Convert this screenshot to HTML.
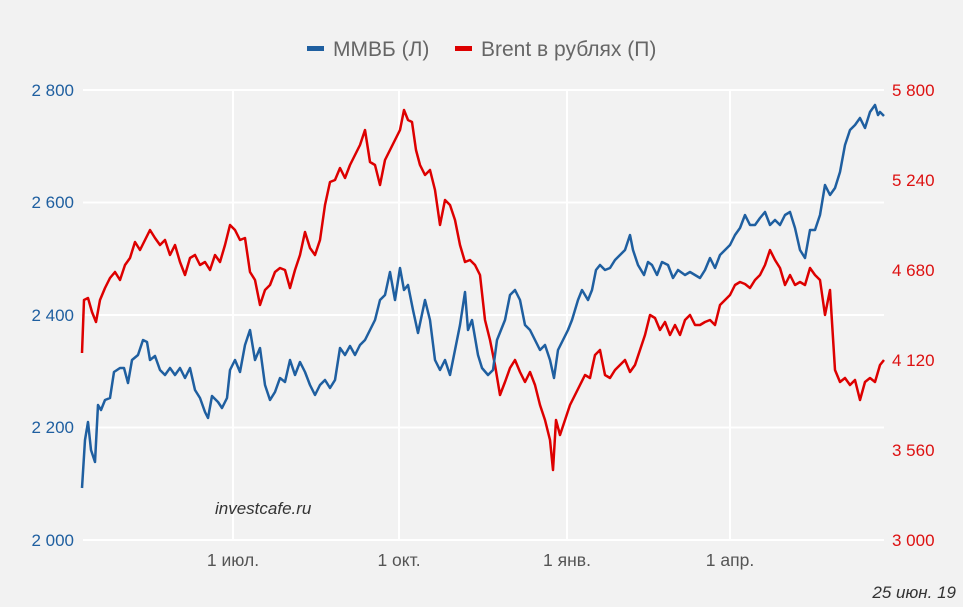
<!DOCTYPE html><html><head><meta charset="utf-8"><style>body{margin:0;background:#f2f2f2}svg{display:block;font-family:"Liberation Sans",sans-serif}</style></head><body>
<svg width="963" height="607" viewBox="0 0 963 607">
<rect width="963" height="607" fill="#f2f2f2"/>
<g stroke="#fff" stroke-width="2">
<line x1="83" y1="90" x2="884" y2="90"/><line x1="83" y1="202.5" x2="884" y2="202.5"/><line x1="83" y1="315" x2="884" y2="315"/><line x1="83" y1="427.5" x2="884" y2="427.5"/><line x1="83" y1="540" x2="884" y2="540"/>
<line x1="233" y1="90" x2="233" y2="540"/><line x1="399" y1="90" x2="399" y2="540"/><line x1="567" y1="90" x2="567" y2="540"/><line x1="730" y1="90" x2="730" y2="540"/>
</g>
<g font-size="17" fill="#1f5fa0" text-anchor="end">
<text x="74" y="96">2 800</text><text x="74" y="208">2 600</text><text x="74" y="321">2 400</text><text x="74" y="433">2 200</text><text x="74" y="546">2 000</text></g>
<g font-size="17" fill="#dd1111">
<text x="892" y="96">5 800</text><text x="892" y="186">5 240</text><text x="892" y="276">4 680</text><text x="892" y="366">4 120</text><text x="892" y="456">3 560</text><text x="892" y="546">3 000</text></g>
<g font-size="17.5" fill="#555" text-anchor="middle">
<text x="233" y="566">1 июл.</text><text x="399" y="566">1 окт.</text><text x="567" y="566">1 янв.</text><text x="730" y="566">1 апр.</text></g>
<text x="215" y="514" font-size="17" font-style="italic" fill="#333">investcafe.ru</text>
<text x="956" y="598" font-size="17" font-style="italic" fill="#333" text-anchor="end">25 июн. 19</text>
<rect x="307" y="46" width="17" height="5" fill="#1f5fa0"/><text x="333" y="56" font-size="21" fill="#666">ММВБ (Л)</text>
<rect x="455" y="46" width="17" height="5" fill="#d00"/><text x="481" y="56" font-size="21" fill="#666">Brent в рублях (П)</text>
<polyline fill="none" stroke="#d00" stroke-width="2.5" stroke-linejoin="round" points="82,353 84,300 88,298 92,312 96,322 100,300 105,288 110,278 115,272 120,280 125,265 130,258 135,242 140,250 145,240 150,230 155,238 160,245 165,240 170,255 175,245 180,262 185,275 190,258 195,255 200,265 205,262 210,270 215,255 220,262 225,245 230,225 235,230 240,240 245,238 250,272 255,280 260,305 265,290 270,285 275,272 280,268 285,270 290,288 295,270 300,255 305,232 310,248 315,255 320,240 325,205 330,182 335,180 340,168 345,178 350,165 355,155 360,145 365,130 370,162 375,165 380,185 385,160 390,150 395,140 400,130 404,110 408,120 412,122 416,150 420,165 425,175 430,170 435,190 440,225 445,200 450,205 455,220 460,245 465,262 470,260 475,265 480,275 485,320 490,340 495,365 500,395 505,382 510,368 515,360 520,372 525,382 530,372 535,385 540,405 545,420 550,440 553,470 556,420 560,435 565,420 570,405 575,395 580,385 585,375 590,378 595,355 600,350 605,375 610,378 615,370 620,365 625,360 630,372 635,365 640,350 645,335 650,315 655,318 660,330 665,322 670,335 675,325 680,335 685,320 690,315 695,325 700,325 705,322 710,320 715,325 720,305 725,300 730,295 735,285 740,282 745,284 750,288 755,280 760,275 765,265 770,250 775,260 780,268 785,285 790,275 795,285 800,282 805,285 810,268 815,275 820,280 825,315 830,290 835,370 840,382 845,378 850,385 855,380 860,400 865,382 870,378 875,382 880,365 884,360"/>
<polyline fill="none" stroke="#1f5fa0" stroke-width="2.5" stroke-linejoin="round" points="82,488 85,440 88,422 91,450 95,462 98,405 101,410 105,400 110,398 114,372 120,368 124,368 128,383 132,360 138,355 143,340 147,342 150,360 155,356 160,370 165,375 170,368 175,375 180,368 185,378 190,368 195,390 200,398 205,412 208,418 212,396 218,402 222,408 227,398 230,370 235,360 240,372 245,345 250,330 255,360 260,348 265,385 270,400 275,392 280,378 285,382 290,360 295,375 300,362 305,372 310,385 315,395 320,385 325,380 330,388 335,380 340,348 345,355 350,346 355,355 360,345 365,340 370,330 375,320 380,300 385,295 390,272 395,300 400,268 404,290 408,285 413,310 418,333 425,300 430,320 435,360 440,370 445,360 450,375 455,350 460,325 465,292 468,330 472,320 478,355 482,368 488,375 493,370 497,340 505,320 510,295 515,290 520,300 525,325 530,330 535,340 540,350 545,345 550,360 554,378 558,350 563,340 568,330 572,320 578,300 582,290 588,300 592,290 596,270 600,265 605,270 610,268 615,260 620,255 625,250 630,235 633,250 638,265 644,275 648,262 652,265 657,275 662,262 668,265 673,278 678,270 685,275 690,272 695,275 700,278 705,270 710,258 715,268 720,255 725,250 730,245 735,235 740,228 745,215 750,225 755,225 760,218 765,212 770,225 775,220 780,225 785,215 790,212 795,228 800,250 805,258 810,230 815,230 820,215 825,185 830,195 835,188 840,172 845,145 850,130 855,125 860,118 865,128 870,112 875,105 878,115 880,112 884,116"/>
</svg></body></html>
